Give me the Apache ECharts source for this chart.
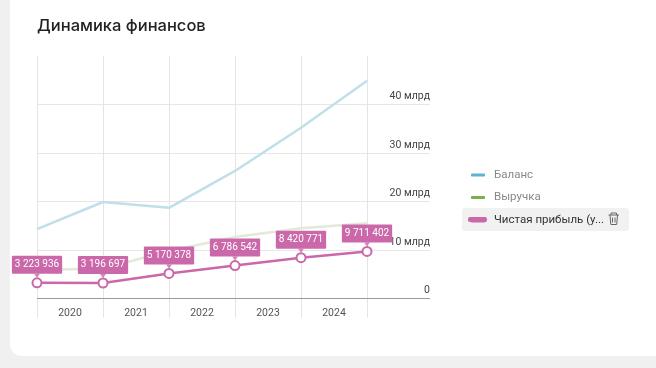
<!DOCTYPE html>
<html>
<head>
<meta charset="utf-8">
<script src="https://cdn.jsdelivr.net/npm/echarts@6/dist/echarts.min.js"></script>
<style>
  html, body { margin: 0; padding: 0; width: 656px; height: 368px; overflow: hidden; background: #f0f0f0; }
  .card { position: absolute; left: 10px; top: -20px; width: 680px; height: 376px; background: #fff; border-radius: 12px; }
  #chart { position: absolute; left: 0; top: 0; width: 656px; height: 368px; }
</style>
</head>
<body>
<div class="card"></div>
<div id="chart"></div>
<script>
const yearLabels = ['2020', '2021', '2022', '2023', '2024'];
const points = ['p0', 'p1', 'p2', 'p3', 'p4', 'p5'];
// значения в тыс. руб.
const balance = [14300000, 19900000, 18700000, 26300000, 35200000, 44900000];
const revenue = [5900000, 6200000, 9800000, 12700000, 14500000, 15500000];
const profit = [3223936, 3196697, 5170378, 6786542, 8420771, 9711402];
const seriesNames = ['Баланс', 'Выручка', 'Чистая прибыль (у...'];

const titleFont = 'Inter, "Noto Sans", sans-serif';
const font = 'Roboto, "Noto Sans", sans-serif';
const pink = '#cb68aa';
const chart = echarts.init(document.getElementById('chart'), null, { renderer: 'canvas' });

function trashPart(points) {
  return { type: 'polyline', z: 10, shape: { points }, style: { fill: 'none', stroke: '#666', lineWidth: 1 } };
}

chart.setOption({
  animation: false,
  textStyle: { fontFamily: font },
  title: {
    text: 'Динамика финансов',
    left: 37,
    top: 18,
    padding: 0,
    textStyle: { fontSize: 16.5, fontWeight: 500, color: '#222', fontFamily: titleFont },
  },
  legend: {
    orient: 'vertical',
    left: 470,
    top: 168,
    padding: 0,
    itemWidth: 14,
    itemHeight: 3,
    itemGap: 8.5,
    selectedMode: false,
    icon: 'roundRect',
    textStyle: { fontSize: 11.5, fontFamily: font, color: '#888', lineHeight: 14, padding: [0, 0, 0, 4] },
    data: [
      { name: seriesNames[0], itemStyle: { color: '#5fb2d6' } },
      { name: seriesNames[1], itemStyle: { color: '#79b04a' } },
      { name: seriesNames[2], itemStyle: { color: pink }, textStyle: { color: '#333' } },
    ],
  },
  grid: [
    { left: 37, top: 56, width: 393, height: 242.5 },
    { left: 37, top: 56, width: 330, height: 242.5 },
  ],
  xAxis: [
    { gridIndex: 0, type: 'value', min: 0, max: 1, show: false },
    {
      gridIndex: 1,
      type: 'category',
      boundaryGap: false,
      data: points,
      axisLine: { show: false },
      axisLabel: { show: false },
      axisTick: { show: true, inside: false, length: 19, lineStyle: { color: '#e4e4e4' } },
      splitLine: { show: true, lineStyle: { color: '#e4e4e4' } },
    },
    {
      gridIndex: 1,
      type: 'category',
      position: 'bottom',
      boundaryGap: true,
      data: yearLabels,
      axisLine: { show: false },
      axisTick: { show: false },
      splitLine: { show: false },
      axisLabel: { color: '#555', fontSize: 10.5, margin: 9, fontFamily: font },
    },
  ],
  yAxis: [
    {
      gridIndex: 0,
      type: 'value',
      position: 'right',
      min: 0,
      max: 50000000,
      interval: 10000000,
      axisLine: { show: false },
      axisTick: { show: false },
      splitLine: { show: true, showMaxLine: false, lineStyle: { color: '#e6e6e6' } },
      axisLabel: {
        inside: true,
        showMaxLabel: false,
        margin: 0,
        color: '#444',
        fontSize: 10.5,
        fontFamily: font,
        verticalAlign: 'bottom',
        lineHeight: 16,
        formatter: (v) => (v === 0 ? '0' : v / 1000000 + ' млрд'),
      },
    },
    { gridIndex: 1, type: 'value', min: 0, max: 50000000, interval: 10000000, show: false },
  ],
  graphic: [
    // полка под активной строкой легенды
    { type: 'rect', z: 0, shape: { x: 462, y: 208, width: 167, height: 23, r: 3 }, style: { fill: '#f1f1f1' } },
    { type: 'rect', z: 10, shape: { x: 468, y: 217, width: 19, height: 5, r: 2 }, style: { fill: pink } },
    // корзина
    trashPart([[608.5, 215], [619, 215]]),
    trashPart([[611, 215], [611, 213], [616.5, 213], [616.5, 215]]),
    trashPart([[610, 215], [610.8, 224.5], [616.7, 224.5], [617.5, 215]]),
    trashPart([[612.5, 217.5], [612.5, 222.5]]),
    trashPart([[615, 217.5], [615, 222.5]]),
    // нулевая линия
    { type: 'line', z: 3, shape: { x1: 37, y1: 298.5, x2: 430, y2: 298.5 }, style: { stroke: '#9a9a9a', lineWidth: 1 } },
  ],
  series: [
    {
      name: seriesNames[0],
      type: 'line',
      xAxisIndex: 1,
      yAxisIndex: 1,
      data: balance,
      symbol: 'none',
      lineStyle: { color: '#c0dfe8', width: 2.5 },
      itemStyle: { color: '#c0dfe8' },
    },
    {
      name: seriesNames[1],
      type: 'line',
      xAxisIndex: 1,
      yAxisIndex: 1,
      data: revenue,
      symbol: 'none',
      lineStyle: { color: '#e2e9da', width: 2.5 },
      itemStyle: { color: '#e2e9da' },
    },
    {
      name: seriesNames[2],
      type: 'line',
      xAxisIndex: 1,
      yAxisIndex: 1,
      z: 5,
      data: profit,
      symbol: 'circle',
      symbolSize: 9,
      showAllSymbol: true,
      lineStyle: { color: pink, width: 2.5 },
      itemStyle: { color: '#fff', borderColor: pink, borderWidth: 2 },
      label: {
        show: true,
        position: 'top',
        distance: 3.5,
        color: '#fff',
        fontSize: 10,
        fontFamily: font,
        backgroundColor: pink,
        borderRadius: 1,
        padding: [4, 3, 4, 3],
        formatter: (p) => String(p.value).replace(/\B(?=(\d{3})+$)/g, ' '),
      },
    },
    {
      // хвостик подписи
      type: 'scatter',
      xAxisIndex: 1,
      yAxisIndex: 1,
      z: 6,
      data: profit,
      silent: true,
      symbol: 'triangle',
      symbolRotate: 180,
      symbolSize: [6, 4],
      symbolOffset: [0, -7],
      itemStyle: { color: pink },
    },
  ],
});
</script>
</body>
</html>
